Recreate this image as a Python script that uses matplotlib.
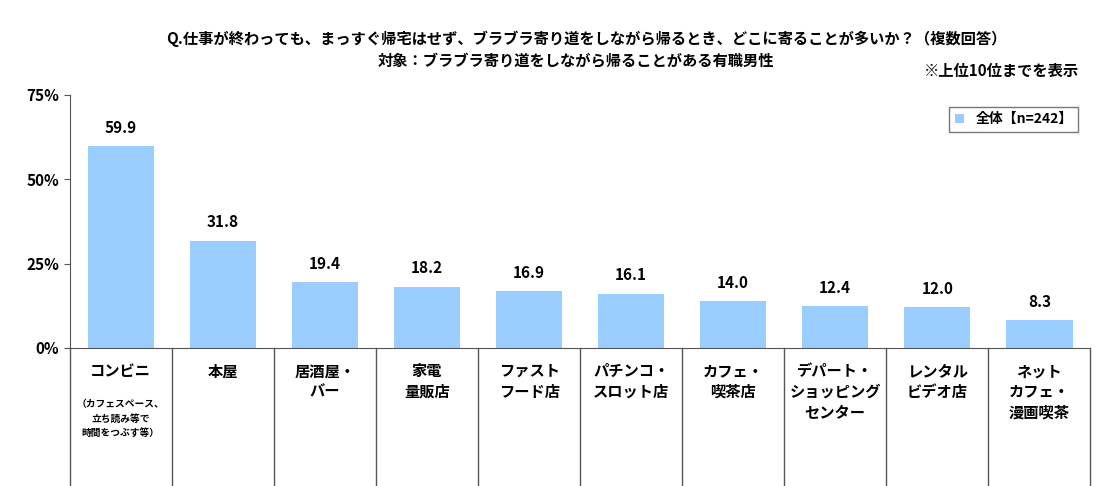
import matplotlib
matplotlib.use("Agg")
import matplotlib.pyplot as plt

plt.rcParams["font.family"] = "Noto Sans CJK JP"

categories = ["コンビニ", "本屋", "居酒屋・\nバー", "家電\n量販店", "ファスト\nフード店",
              "パチンコ・\nスロット店", "カフェ・\n喫茶店", "デパート・\nショッピング\nセンター",
              "レンタル\nビデオ店", "ネット\nカフェ・\n漫画喫茶"]
values = [59.9, 31.8, 19.4, 18.2, 16.9, 16.1, 14.0, 12.4, 12.0, 8.3]
yticks = [0, 25, 50, 75]

fig = plt.figure(figsize=(11.07, 4.86), dpi=100)
ax = fig.add_axes([0.063, 0.284, 0.922, 0.521])
x = range(len(values))
ax.bar(x, values, width=0.65, color="#99CCFF", label="全体【n=242】")
for i, v in enumerate(values):
    ax.text(i, v + 3, f"{v:.1f}", ha="center", va="bottom", fontsize=11, fontweight="bold")
ax.set_xlim(-0.5, len(values) - 0.5)
ax.set_ylim(0, 75)
ax.set_yticks(yticks)
ax.set_yticklabels([f"{t}%" for t in yticks], fontsize=11, fontweight="bold")
ax.set_xticks([])
for s in ["top", "right"]:
    ax.spines[s].set_visible(False)
ax.spines["left"].set_color("#555555")
ax.spines["bottom"].set_color("#555555")
ax.tick_params(axis="y", length=4, color="#555555")

for i in range(len(values) + 1):
    ax.plot([i - 0.5, i - 0.5], [0, -0.9], transform=ax.get_xaxis_transform(),
            color="#555555", lw=1, clip_on=False)
for i, c in enumerate(categories):
    ax.text(i, -0.06, c, transform=ax.get_xaxis_transform(), ha="center", va="top",
            fontsize=11, fontweight="bold", linespacing=1.35)
ax.text(0, -0.2, "（カフェスペース、\n立ち読み等で\n時間をつぶす等）", transform=ax.get_xaxis_transform(),
        ha="center", va="top", fontsize=7, fontweight="bold", linespacing=1.6)

leg = ax.legend(loc="upper right", bbox_to_anchor=(0.995, 0.98), fontsize=11,
                prop={"weight": "bold"}, frameon=True, fancybox=False, handlelength=0.7)
leg.get_frame().set_edgecolor("#555555")

fig.text(0.53, 0.92, "Q.仕事が終わっても、まっすぐ帰宅はせず、ブラブラ寄り道をしながら帰るとき、どこに寄ることが多いか？（複数回答）",
         ha="center", va="center", fontsize=11, fontweight="bold")
fig.text(0.52, 0.875, "対象：ブラブラ寄り道をしながら帰ることがある有職男性", ha="center", va="center",
         fontsize=11, fontweight="bold")
fig.text(0.975, 0.855, "※上位10位までを表示", ha="right", va="center", fontsize=11, fontweight="bold")

fig.savefig("out.png", dpi=100)
